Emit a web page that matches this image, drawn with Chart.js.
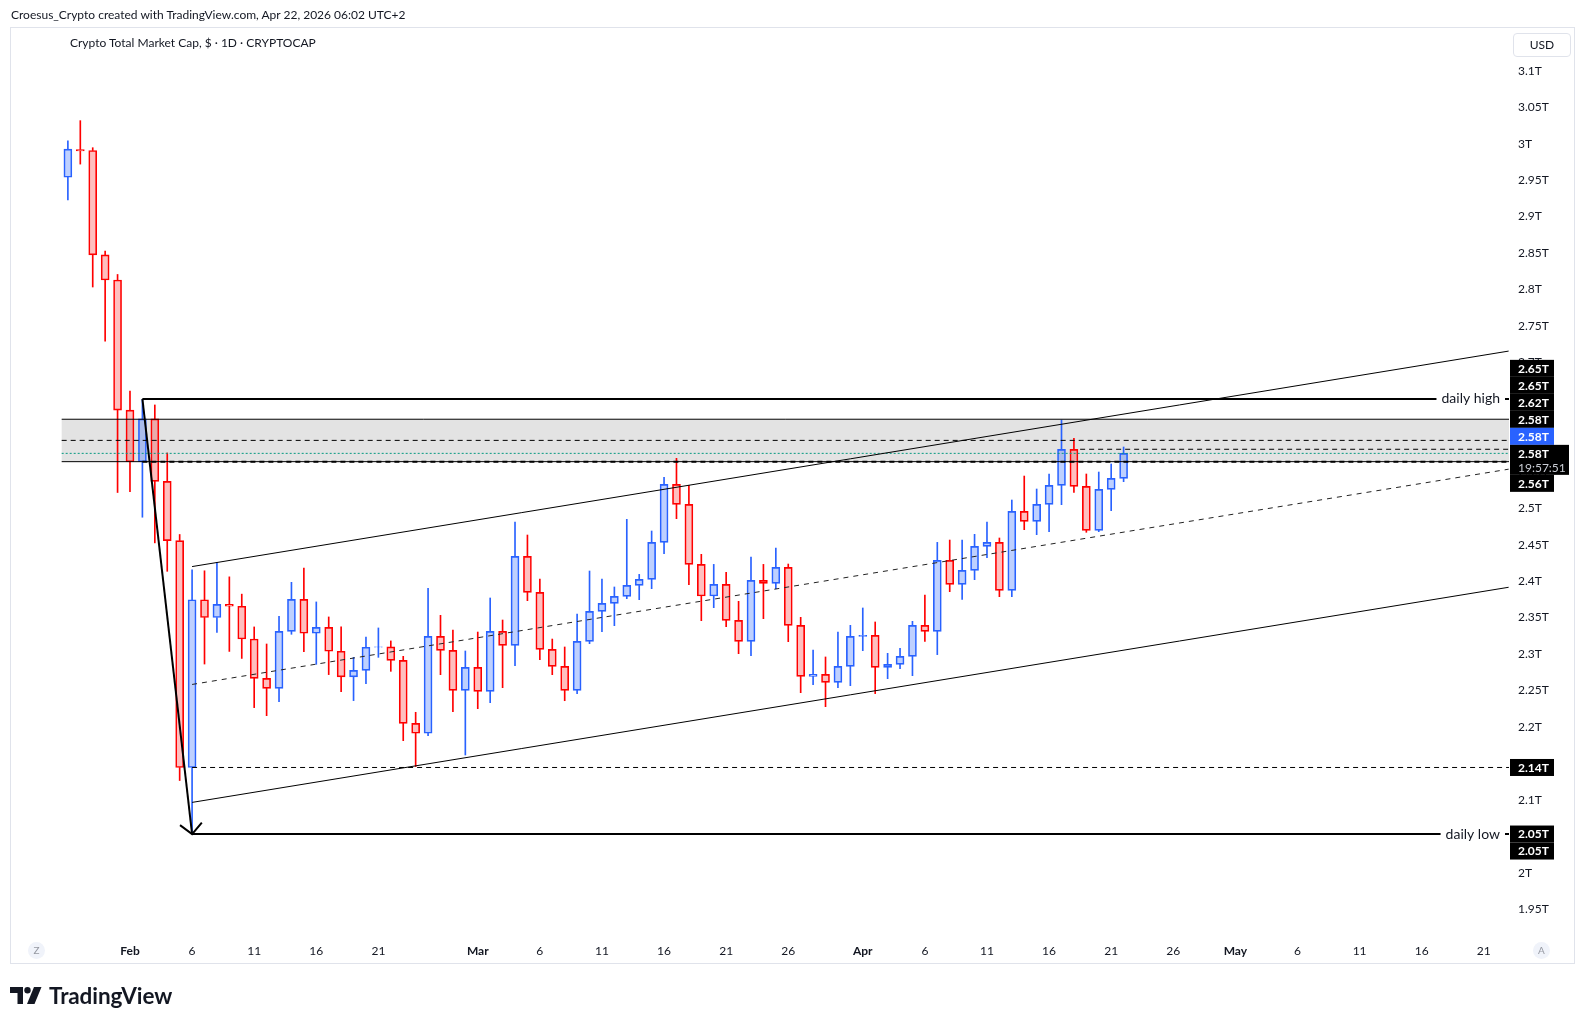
<!DOCTYPE html>
<html>
<head>
<meta charset="utf-8">
<script src="https://cdn.jsdelivr.net/npm/chart.js@4.4.1/dist/chart.umd.min.js"></script>
<style>
  body { margin: 0; background: #fff; width: 1585px; height: 1025px; overflow: hidden; position: relative;
         font-family: Lato, "Noto Sans", sans-serif; color: #131722; }
  #frame { position: absolute; left: 10px; top: 27px; width: 1563px; height: 935px; border: 1px solid #e0e3eb; }
  #chart { position: absolute; left: 0; top: 0; }
  .txt { position: absolute; font-size: 12px; line-height: 16px; white-space: nowrap; }
  #hdr { left: 11px; top: 7px; }
  #title { left: 70px; top: 35px; }
  #usd { position: absolute; left: 1513px; top: 33px; width: 56px; height: 22px; border: 1px solid #e0e3eb;
         border-radius: 4px; font-size: 12px; line-height: 22px; text-align: center; }
  .circ { position: absolute; width: 17px; height: 17px; border-radius: 50%; background: #f0f3fa; color: #9598a1;
          font-size: 10px; line-height: 17px; text-align: center; }
  #logo { position: absolute; left: 10px; top: 983px; height: 24px; display: flex; align-items: center; }
  #logo span { font-size: 22.5px; font-weight: 700; margin-left: 7px; letter-spacing: -0.1px; }
</style>
</head>
<body>
<div id="frame"></div>
<canvas id="chart" width="1585" height="1025"></canvas>
<div class="txt" id="hdr">Croesus_Crypto created with TradingView.com, Apr 22, 2026 06:02 UTC+2</div>
<div class="txt" id="title">Crypto Total Market Cap, $ · 1D · CRYPTOCAP</div>
<div id="usd">USD</div>
<div class="circ" style="left:28px;top:942px">Z</div>
<div class="circ" style="left:1533px;top:942px">A</div>
<div id="logo">
  <svg width="32" height="17" viewBox="0 0 32 17">
    <path d="M0 0H13V17H7.5V6H0Z" fill="#131722"/>
    <circle cx="17.5" cy="3.2" r="3.2" fill="#131722"/>
    <path d="M24 0H31.5L24.5 17H17Z" fill="#131722"/>
  </svg>
  <span>TradingView</span>
</div>
<script>
// daily candles, values in trillions USD
const dates = [
  'Jan 27','Jan 28','Jan 29','Jan 30','Jan 31',
  'Feb 1','Feb 2','Feb 3','Feb 4','Feb 5','Feb 6','Feb 7','Feb 8','Feb 9','Feb 10',
  'Feb 11','Feb 12','Feb 13','Feb 14','Feb 15','Feb 16','Feb 17','Feb 18','Feb 19','Feb 20',
  'Feb 21','Feb 22','Feb 23','Feb 24','Feb 25','Feb 26','Feb 27','Feb 28',
  'Mar 1','Mar 2','Mar 3','Mar 4','Mar 5','Mar 6','Mar 7','Mar 8','Mar 9','Mar 10',
  'Mar 11','Mar 12','Mar 13','Mar 14','Mar 15','Mar 16','Mar 17','Mar 18','Mar 19','Mar 20',
  'Mar 21','Mar 22','Mar 23','Mar 24','Mar 25','Mar 26','Mar 27','Mar 28','Mar 29','Mar 30','Mar 31',
  'Apr 1','Apr 2','Apr 3','Apr 4','Apr 5','Apr 6','Apr 7','Apr 8','Apr 9','Apr 10',
  'Apr 11','Apr 12','Apr 13','Apr 14','Apr 15','Apr 16','Apr 17','Apr 18','Apr 19','Apr 20','Apr 21','Apr 22'
];
const opens = [
  2.954, 2.992, 2.9906, 2.8475, 2.813,
  2.6346, 2.5637, 2.6225, 2.5368, 2.4556, 2.1443, 2.3744, 2.3501, 2.368, 2.3655,
  2.3205, 2.2666, 2.2529, 2.3311, 2.375, 2.3284, 2.3366, 2.3037, 2.2685, 2.2776,
  2.3092, 2.3097, 2.2913, 2.2049, 2.1912, 2.3242, 2.305, 2.2501,
  2.2817, 2.2487, 2.331, 2.3118, 2.4339, 2.3845, 2.3064, 2.283, 2.2501, 2.3173,
  2.3585, 2.3695, 2.3791, 2.3941, 2.4024, 2.4531, 2.5327, 2.5053, 2.4229, 2.3795,
  2.3955, 2.3461, 2.3173, 2.401, 2.3969, 2.4189, 2.3393, 2.2693, 2.2721, 2.2611, 2.2831,
  2.3242, 2.3256, 2.2817, 2.2858, 2.2968, 2.3393, 2.3311, 2.4285, 2.3955, 2.4147,
  2.4477, 2.4532, 2.3873, 2.4957, 2.482, 2.5053, 2.5313, 2.5807, 2.53, 2.4696, 2.5259, 2.5409
];
const highs = [
  3.004, 3.0316, 2.9945, 2.8526, 2.8206,
  2.6608, 2.649, 2.6416, 2.5758, 2.4639, 2.4153, 2.4141, 2.4256, 2.4058, 2.3821,
  2.3371, 2.3137, 2.3517, 2.3983, 2.418, 2.3714, 2.3508, 2.3371, 2.2954, 2.3233,
  2.3357, 2.3179, 2.2968, 2.22, 2.39, 2.353, 2.3329, 2.3041,
  2.3301, 2.3768, 2.3466, 2.481, 2.4632, 2.4028, 2.3205, 2.3096, 2.3548, 2.4138,
  2.4028, 2.3919, 2.4847, 2.4092, 2.4687, 2.5423, 2.5684, 2.5313, 2.4367, 2.4229,
  2.412, 2.3722, 2.433, 2.4229, 2.4454, 2.4234, 2.3503, 2.3055, 2.2959, 2.3301, 2.3393,
  2.3631, 2.3439, 2.3009, 2.3077, 2.3448, 2.3809, 2.4531, 2.4563, 2.4563, 2.4641,
  2.481, 2.4591, 2.5112, 2.5441, 2.5263, 2.5469, 2.621, 2.5958, 2.5469, 2.5496, 2.5606, 2.5839
];
const lows = [
  2.923, 2.972, 2.8034, 2.7292, 2.5215,
  2.5227, 2.4876, 2.4524, 2.4134, 2.1264, 2.053, 2.2862, 2.3297, 2.3035, 2.2939,
  2.2264, 2.2154, 2.2346, 2.327, 2.3032, 2.2858, 2.2717, 2.2484, 2.236, 2.2593,
  2.2954, 2.2762, 2.1811, 2.1455, 2.1879, 2.2716, 2.2208, 2.1614,
  2.225, 2.2332, 2.2538, 2.2839, 2.3731, 2.2922, 2.2716, 2.2359, 2.2455, 2.3141,
  2.3306, 2.3388, 2.3759, 2.3745, 2.3896, 2.4376, 2.4856, 2.3951, 2.3457, 2.3635,
  2.3374, 2.3004, 2.2977, 2.3484, 2.3896, 2.3169, 2.2469, 2.2579, 2.2277, 2.2538, 2.2565,
  2.3045, 2.2456, 2.2661, 2.2799, 2.2702, 2.3173, 2.2991, 2.3855, 2.375, 2.4019,
  2.4321, 2.3786, 2.3786, 2.4705, 2.4637, 2.4678, 2.5048, 2.5217, 2.4669, 2.4678, 2.4966, 2.5364
];
const closes = [
  2.9926, 2.990, 2.8475, 2.813, 2.6346,
  2.5637, 2.6225, 2.5368, 2.4556, 2.1443, 2.3744, 2.3501, 2.368, 2.3655, 2.3205,
  2.2666, 2.2529, 2.3311, 2.375, 2.3284, 2.3366, 2.3037, 2.2685, 2.2776, 2.3092,
  2.3097, 2.2913, 2.2049, 2.1912, 2.3242, 2.305, 2.2501, 2.2817,
  2.2487, 2.331, 2.3118, 2.4339, 2.3845, 2.3064, 2.283, 2.2501, 2.3173, 2.3585,
  2.3695, 2.3791, 2.3941, 2.4024, 2.4531, 2.5327, 2.5053, 2.4229, 2.3795, 2.3955,
  2.3461, 2.3173, 2.401, 2.3969, 2.4189, 2.3393, 2.2693, 2.2721, 2.2611, 2.2831, 2.3242,
  2.3256, 2.2817, 2.2858, 2.2968, 2.3393, 2.3311, 2.4285, 2.3955, 2.4147, 2.4477,
  2.4532, 2.3873, 2.4957, 2.482, 2.5053, 2.5313, 2.5807, 2.53, 2.4696, 2.5259, 2.5409, 2.5752
];

// axes
const xTickDates = ['Feb 1','Feb 6','Feb 11','Feb 16','Feb 21','Mar 1','Mar 6','Mar 11','Mar 16','Mar 21','Mar 26',
  'Apr 1','Apr 6','Apr 11','Apr 16','Apr 21','Apr 26','May 1','May 6','May 11','May 16','May 21'];
const xTickLabels = ['Feb','6','11','16','21','Mar','6','11','16','21','26',
  'Apr','6','11','16','21','26','May','6','11','16','21'];
const yTickValues = [1.95, 2, 2.05, 2.1, 2.15, 2.2, 2.25, 2.3, 2.35, 2.4, 2.45, 2.5, 2.55, 2.6,
  2.65, 2.7, 2.75, 2.8, 2.85, 2.9, 2.95, 3, 3.05, 3.1];
const xRange = [-9.58, 111.03];   // visible days (0 = Feb 1)
const yRange = [1.9145, 3.1587];

// drawings
const dailyHigh = 2.6498;
const dailyLow = 2.053;
const arrowDates = ['Feb 2', 'Feb 6'];
const supportLevel = 2.1443;
const channelDates = ['Feb 6', 'May 23'];
const channelUpper = [2.4199, 2.7155];
const channelMid = [2.2582, 2.5535];
const channelLower = [2.0964, 2.3915];
const zoneStartDay = -5.5;
const zoneTop = 2.622, zoneMid = 2.593, zoneBottom = 2.5638;
const prevCloseLevel = 2.5808, prevCloseFrom = 76.5;
const lastPrice = 2.5752;
const lastCountdown = '19:57:51';
const axisLabelTexts = ['2.65T','2.65T','2.62T','2.58T','2.58T','2.58T','2.56T','2.14T','2.05T','2.05T'];
const axisLabelPrices = [2.6498, 2.6498, 2.622, 2.593, 2.5808, 2.5752, 2.5638, 2.1443, 2.053, 2.053];
const axisLabelColors = ['#000','#000','#000','#000','#2962ff','#000','#000','#000','#000','#000'];
const lastLabelIndex = 5;

const FONT = 'Lato, "Noto Sans", sans-serif';
const RED = '#ff0000', BLUE = '#2962ff';

// day number counted from Feb 1
const monthStart = { Jan: -31, Feb: 0, Mar: 28, Apr: 59, May: 89 };
function dayOf(s) {
  const [m, d] = s.split(' ');
  return monthStart[m] + Number(d) - 1;
}

const xs = dates.map(dayOf);
const up = closes.map((c, i) => c >= opens[i]);
const bodyData = xs.map((x, i) => ({ x: x, y: [opens[i], closes[i]] }));
const upperWick = xs.map((x, i) => ({ x: x, y: [Math.max(opens[i], closes[i]), highs[i]] }));
const lowerWick = xs.map((x, i) => ({ x: x, y: [lows[i], Math.min(opens[i], closes[i])] }));
const lineColors = up.map(u => u ? BLUE : RED);

function seg(ctx, x, y, d1, p1, d2, p2, width, dash, color) {
  ctx.beginPath();
  ctx.lineWidth = width;
  ctx.strokeStyle = color || '#000';
  ctx.setLineDash(dash || []);
  ctx.moveTo(x.getPixelForValue(d1), y.getPixelForValue(p1));
  ctx.lineTo(x.getPixelForValue(d2), y.getPixelForValue(p2));
  ctx.stroke();
}

function lineText(ctx, area, y, price, text) {
  const py = y.getPixelForValue(price);
  ctx.font = '14px ' + FONT;
  const w = ctx.measureText(text).width;
  const right = area.right - 9;
  ctx.setLineDash([]);
  ctx.fillStyle = '#fff';
  ctx.fillRect(right - w - 5, py - 9, w + 10, 18);
  ctx.fillStyle = '#131722';
  ctx.textAlign = 'right';
  ctx.textBaseline = 'middle';
  ctx.fillText(text, right, py);
}

const drawings = {
  id: 'drawings',
  beforeDatasetsDraw(chart) {
    const { ctx, chartArea: a, scales: { x, y } } = chart;
    ctx.save();
    const x0 = x.getPixelForValue(zoneStartDay);
    const yt = y.getPixelForValue(zoneTop), yb = y.getPixelForValue(zoneBottom);
    ctx.fillStyle = '#e3e3e3';
    ctx.fillRect(x0, yt, a.right - x0, yb - yt);
    ctx.restore();
  },
  afterDatasetsDraw(chart) {
    const { ctx, chartArea: a, scales: { x, y } } = chart;
    ctx.save();
    ctx.beginPath();
    ctx.rect(a.left, a.top, a.right - a.left, a.bottom - a.top);
    ctx.clip();
    const end = xRange[1] + 1;

    // zone borders
    seg(ctx, x, y, zoneStartDay, zoneTop, end, zoneTop, 1);
    seg(ctx, x, y, zoneStartDay, zoneBottom, end, zoneBottom, 1);
    seg(ctx, x, y, dayOf('Feb 2'), zoneBottom, end, zoneBottom, 2, [5, 4]);
    seg(ctx, x, y, zoneStartDay, zoneMid, end, zoneMid, 1, [5, 4]);
    seg(ctx, x, y, prevCloseFrom, prevCloseLevel, end, prevCloseLevel, 1, [5, 4]);
    seg(ctx, x, y, zoneStartDay, lastPrice, end, lastPrice, 1, [2, 2], '#089981');

    // channel
    const c0 = dayOf(channelDates[0]), c1 = dayOf(channelDates[1]);
    seg(ctx, x, y, c0, channelUpper[0], c1, channelUpper[1], 1);
    seg(ctx, x, y, c0, channelLower[0], c1, channelLower[1], 1);
    seg(ctx, x, y, c0, channelMid[0], c1, channelMid[1], 1, [5, 5], '#222');

    // support dashed
    seg(ctx, x, y, dayOf('Feb 6'), supportLevel, end, supportLevel, 1, [5, 4]);

    // daily high / low
    seg(ctx, x, y, dayOf(arrowDates[0]), dailyHigh, end, dailyHigh, 2);
    seg(ctx, x, y, dayOf(arrowDates[1]), dailyLow, end, dailyLow, 2);
    lineText(ctx, a, y, dailyHigh, 'daily high');
    lineText(ctx, a, y, dailyLow, 'daily low');

    // arrow
    seg(ctx, x, y, dayOf(arrowDates[0]), dailyHigh, dayOf(arrowDates[1]), dailyLow, 2);
    const tx = x.getPixelForValue(dayOf(arrowDates[1])), ty = y.getPixelForValue(dailyLow);
    const sx = x.getPixelForValue(dayOf(arrowDates[0])), sy = y.getPixelForValue(dailyHigh);
    const ang = Math.atan2(sy - ty, sx - tx);
    ctx.beginPath();
    ctx.setLineDash([]);
    ctx.lineWidth = 2;
    ctx.moveTo(tx + 15 * Math.cos(ang - 0.82), ty + 15 * Math.sin(ang - 0.82));
    ctx.lineTo(tx, ty);
    ctx.lineTo(tx + 15 * Math.cos(ang + 0.82), ty + 15 * Math.sin(ang + 0.82));
    ctx.stroke();
    ctx.restore();
  },
  afterDraw(chart) {
    const { ctx, chartArea: a, scales: { y } } = chart;
    const H = 17, EXTRA = 13;
    const targets = axisLabelPrices.map(p => y.getPixelForValue(p));
    const cy = targets.slice();
    for (let i = lastLabelIndex - 1; i >= 0; i--) cy[i] = Math.min(targets[i], cy[i + 1] - H);
    let bottom = cy[lastLabelIndex] + H / 2 + EXTRA;
    for (let i = lastLabelIndex + 1; i < cy.length; i++) {
      cy[i] = Math.max(targets[i], bottom + H / 2);
      bottom = cy[i] + H / 2;
    }
    ctx.save();
    ctx.textBaseline = 'middle';
    ctx.textAlign = 'left';
    axisLabelTexts.forEach((t, i) => {
      const last = i === lastLabelIndex;
      ctx.fillStyle = axisLabelColors[i];
      ctx.fillRect(a.right + 1, cy[i] - H / 2, last ? 59 : 44, H + (last ? EXTRA : 0));
      ctx.fillStyle = '#fff';
      ctx.font = 'bold 12px ' + FONT;
      ctx.fillText(t, a.right + 9, cy[i] + 0.5);
      if (last) {
        ctx.fillStyle = '#c8cbd3';
        ctx.font = '12px ' + FONT;
        ctx.fillText(lastCountdown, a.right + 9, cy[i] + 14.5);
      }
    });
    ctx.restore();
  }
};

new Chart(document.getElementById('chart'), {
  type: 'bar',
  data: {
    datasets: [
      { label: 'body', data: bodyData, grouped: false, order: 1,
        backgroundColor: up.map(u => u ? 'rgba(41,98,255,0.3)' : 'rgba(255,0,0,0.25)'),
        borderColor: lineColors, borderWidth: 1, borderSkipped: false, barThickness: 8 },
      { label: 'upper wick', data: upperWick, grouped: false, order: 2,
        backgroundColor: lineColors, borderWidth: 0, barThickness: 1 },
      { label: 'lower wick', data: lowerWick, grouped: false, order: 2,
        backgroundColor: lineColors, borderWidth: 0, barThickness: 1 }
    ]
  },
  options: {
    responsive: false,
    animation: false,
    layout: { padding: { left: 11, top: 28, right: 11, bottom: 62 } },
    plugins: { legend: { display: false }, tooltip: { enabled: false } },
    scales: {
      x: {
        type: 'linear', min: xRange[0], max: xRange[1], offset: false,
        grid: { display: false }, border: { display: false },
        afterBuildTicks: s => { s.ticks = xTickDates.map(d => ({ value: dayOf(d) })); },
        afterFit: s => { s.height = 28; },
        ticks: {
          autoSkip: false, maxRotation: 0, padding: 1, color: '#131722',
          callback: (v, i) => xTickLabels[i],
          font: c => ({ family: FONT, size: 12, weight: /^[A-Z]/.test(xTickLabels[c.index] || '') ? 'bold' : 'normal' })
        }
      },
      y: {
        type: 'linear', position: 'right', min: yRange[0], max: yRange[1],
        grid: { display: false }, border: { display: false },
        afterBuildTicks: s => { s.ticks = yTickValues.map(v => ({ value: v })); },
        afterFit: s => { s.width = 65; },
        ticks: {
          padding: 1, color: '#131722', font: { family: FONT, size: 12 },
          callback: v => (+v.toFixed(2)) + 'T'
        }
      }
    }
  },
  plugins: [drawings]
});
</script>
</body>
</html>
